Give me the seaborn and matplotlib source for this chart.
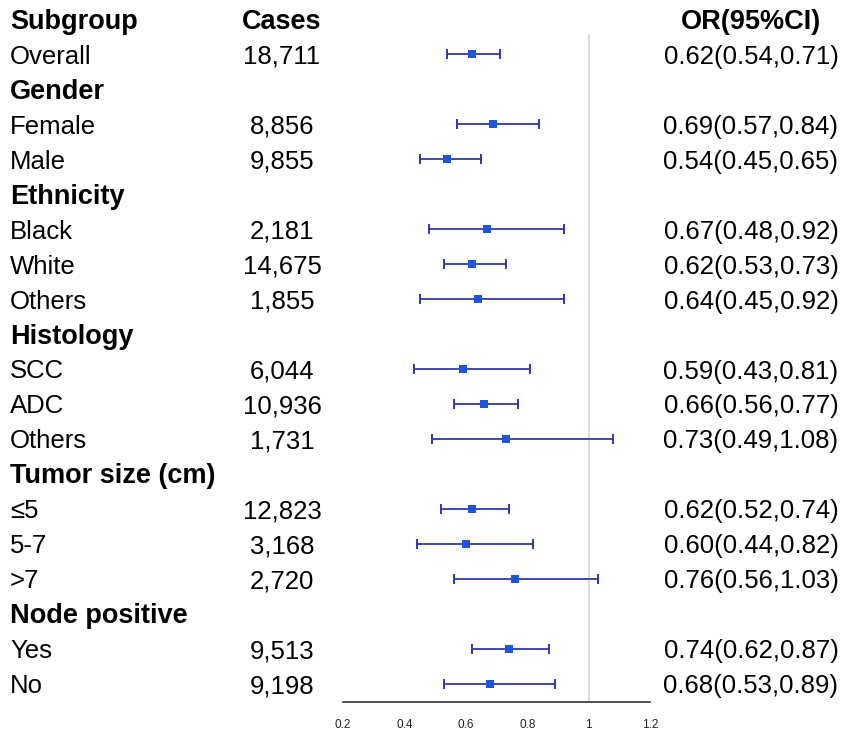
import matplotlib
matplotlib.use('Agg')
import matplotlib.pyplot as plt
import seaborn as sns
import pandas as pd

# rows of the table, top to bottom (headers have no estimate)
labels = ['Overall', 'Gender', 'Female', 'Male', 'Ethnicity', 'Black', 'White', 'Others',
          'Histology', 'SCC', 'ADC', 'Others', 'Tumor size (cm)', '\u22645', '5-7', '>7',
          'Node positive', 'Yes', 'No']
is_header = [False, True, False, False, True, False, False, False,
             True, False, False, False, True, False, False, False,
             True, False, False]
cases = ['18,711', '', '8,856', '9,855', '', '2,181', '14,675', '1,855',
         '', '6,044', '10,936', '1,731', '', '12,823', '3,168', '2,720',
         '', '9,513', '9,198']
odds = [0.62, None, 0.69, 0.54, None, 0.67, 0.62, 0.64,
        None, 0.59, 0.66, 0.73, None, 0.62, 0.60, 0.76,
        None, 0.74, 0.68]
lower = [0.54, None, 0.57, 0.45, None, 0.48, 0.53, 0.45,
         None, 0.43, 0.56, 0.49, None, 0.52, 0.44, 0.56,
         None, 0.62, 0.53]
upper = [0.71, None, 0.84, 0.65, None, 0.92, 0.73, 0.92,
         None, 0.81, 0.77, 1.08, None, 0.74, 0.82, 1.03,
         None, 0.87, 0.89]
x_ticks = [0.2, 0.4, 0.6, 0.8, 1.0, 1.2]
x_ticklabels = ['0.2', '0.4', '0.6', '0.8', '1', '1.2']

sns.set_style('white')
plt.rcParams['font.family'] = ['Liberation Sans', 'DejaVu Sans']
plt.rcParams['text.color'] = 'black'
plt.rcParams['xtick.color'] = '#222222'

W, H = 844, 733
fig = plt.figure(figsize=(W / 100, H / 100), dpi=100)

step = 34.95          # row spacing in px
base0 = 29            # text baseline of the header row
mark0 = 19.5          # marker centre of the header row
axis_y = 702
ax = fig.add_axes([343 / W, 1 - axis_y / H, (650 - 343) / W, axis_y / H])
ax.set_xlim(0.2, 1.2)
ax.set_ylim((axis_y - mark0) / step, -mark0 / step)

df = pd.DataFrame({'row': range(1, len(labels) + 1), 'or': odds, 'lo': lower, 'hi': upper}).dropna()

line_col = '#3038b0'
ax.axvline(1.0, ymin=0, ymax=1 - 35 / axis_y, color='#d6d6d6', lw=1.2, zorder=0)
ax.errorbar(df['or'], df['row'], xerr=[df['or'] - df['lo'], df['hi'] - df['or']],
            fmt='none', ecolor=line_col, elinewidth=1.3, capsize=3.3, capthick=1.4, zorder=2)
sns.scatterplot(data=df, x='or', y='row', marker='s', s=34, color='#1f55d8',
                edgecolor='#1f55d8', linewidth=0, ax=ax, zorder=3, legend=False)

for s in ['top', 'left', 'right']:
    ax.spines[s].set_visible(False)
ax.spines['bottom'].set_color('#333333')
ax.spines['bottom'].set_linewidth(1.2)
ax.set_xticks(x_ticks)
ax.set_xticklabels(x_ticklabels, fontsize=8.5)
ax.tick_params(axis='x', direction='out', length=6, width=1.2, color='#333333', pad=6)
ax.set_yticks([])
ax.set_xlabel('')
ax.set_ylabel('')

fs = 18.5
fs_b = 19.5
def fy(py):
    return 1 - py / H

# header
fig.text(10 / W, fy(base0), 'Subgroup', fontsize=fs_b, fontweight='bold', va='baseline', ha='left')
fig.text(282 / W, fy(base0), 'Cases', fontsize=fs_b, fontweight='bold', va='baseline', ha='center')
fig.text(751 / W, fy(base0), 'OR(95%CI)', fontsize=fs_b, fontweight='bold', va='baseline', ha='center')

for i, lab in enumerate(labels):
    py = base0 + step * (i + 1)
    if is_header[i]:
        fig.text(10 / W, fy(py), lab, fontsize=fs_b, va='baseline', ha='left', fontweight='bold')
    else:
        fig.text(10 / W, fy(py), lab, fontsize=fs, va='baseline', ha='left')
    if cases[i]:
        fig.text(282 / W, fy(py), cases[i], fontsize=fs, va='baseline', ha='center')
    if odds[i] is not None:
        fig.text(751 / W, fy(py), f'{odds[i]:.2f}({lower[i]:.2f},{upper[i]:.2f})',
                 fontsize=fs, va='baseline', ha='center')

fig.savefig('out.png', dpi=100, facecolor='white')
